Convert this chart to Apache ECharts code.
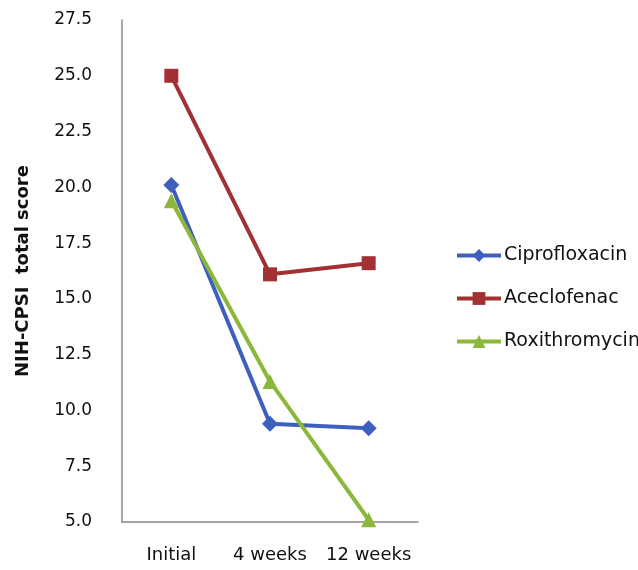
<!DOCTYPE html>
<html><head><meta charset="utf-8">
<script src="https://cdn.jsdelivr.net/npm/echarts@6/dist/echarts.min.js"></script>
<style>html,body{margin:0;padding:0;background:#fff}#c{width:638px;height:570px}</style>
</head><body><div id="c"></div>
<script>
var categories = ['Initial', '4 weeks', '12 weeks'];
var ciprofloxacin = [20.1, 9.4, 9.2];
var aceclofenac = [25.0, 16.1, 16.6];
var roxithromycin = [19.4, 11.3, 5.1];
var yTicks = {min: 5, max: 27.5, interval: 2.5};

var font = '"DejaVu Sans", sans-serif';
var chart = echarts.init(document.getElementById('c'));
function s(name, data, color, symbol, size) {
  return {name: name, type: 'line', data: data, symbol: symbol, symbolSize: size,
    lineStyle: {width: 4, color: color}, itemStyle: {color: color}, animation: false};
}
chart.setOption({
  animation: false,
  grid: {left: 122, top: 20, right: 220, bottom: 48},
  legend: {orient: 'vertical', left: 450, top: 241, itemWidth: 44, itemHeight: 16, itemGap: 24,
    lineStyle: {width: 4},
    textStyle: {fontSize: 19, color: '#111', fontFamily: font, padding: [0,0,0,-2]},
    data: ['Ciprofloxacin', 'Aceclofenac', 'Roxithromycin']},
  xAxis: {type: 'category', data: categories, boundaryGap: true,
    axisLine: {lineStyle: {color: '#888', width: 1.5}}, axisTick: {show: false},
    axisLabel: {fontSize: 18, color: '#111', fontFamily: font, margin: 24, interval: 0, hideOverlap: false}},
  yAxis: {type: 'value', min: yTicks.min, max: yTicks.max, interval: yTicks.interval,
    name: 'NIH-CPSI  total score', nameLocation: 'middle', nameGap: 90,
    nameTextStyle: {fontSize: 18, fontWeight: 'bold', color: '#111', fontFamily: font},
    axisLine: {show: true, lineStyle: {color: '#888', width: 1.5}}, axisTick: {show: false},
    splitLine: {show: false},
    axisLabel: {fontSize: 17, color: '#111', fontFamily: font, margin: 30,
      formatter: function(v){return v.toFixed(1);}}},
  series: [
    s('Ciprofloxacin', ciprofloxacin, '#3F5FBF', 'diamond', 16),
    s('Aceclofenac', aceclofenac, '#A33033', 'rect', 14),
    s('Roxithromycin', roxithromycin, '#8BB83A', 'triangle', 15)
  ]
});
</script></body></html>
